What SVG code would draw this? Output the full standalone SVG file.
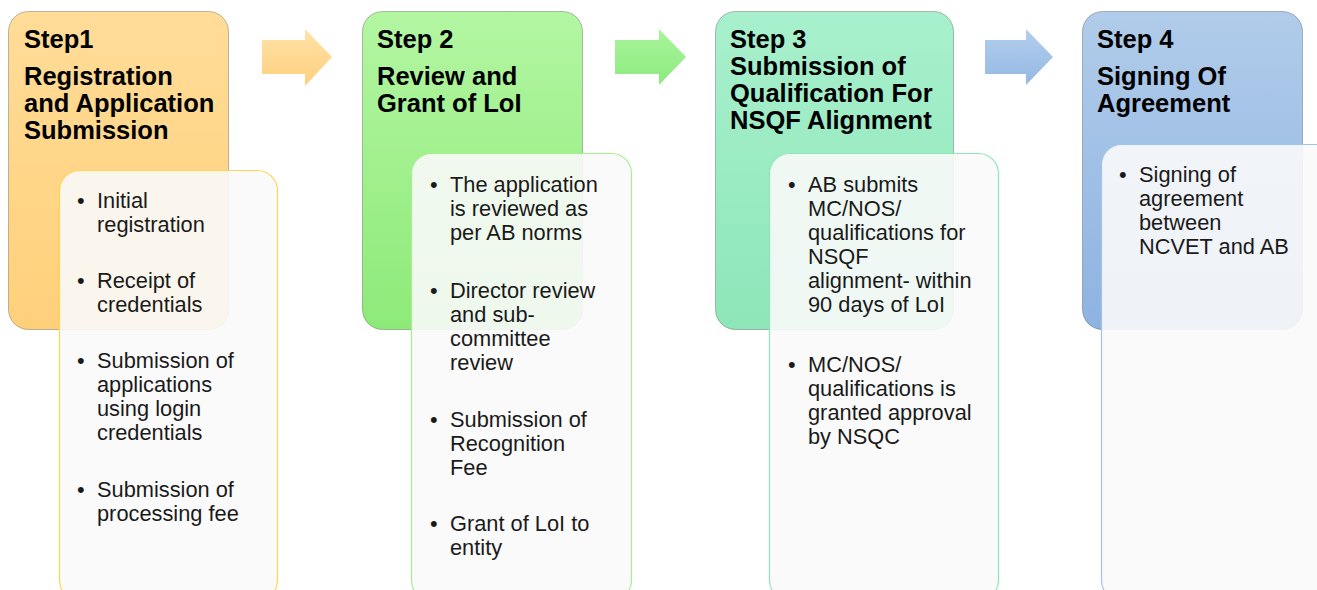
<svg xmlns="http://www.w3.org/2000/svg" width="1317" height="590" viewBox="0 0 1317 590">
<defs>
<linearGradient id="g1" x1="0" y1="0" x2="0" y2="1"><stop offset="0" stop-color="#FFDC98"/><stop offset="1" stop-color="#FFD07A"/></linearGradient>
<linearGradient id="g2" x1="0" y1="0" x2="0" y2="1"><stop offset="0" stop-color="#B3F6A2"/><stop offset="1" stop-color="#8DEA78"/></linearGradient>
<linearGradient id="g3" x1="0" y1="0" x2="0" y2="1"><stop offset="0" stop-color="#A8F0CD"/><stop offset="1" stop-color="#8DE6B8"/></linearGradient>
<linearGradient id="g4" x1="0" y1="0" x2="0" y2="1"><stop offset="0" stop-color="#B1CCEA"/><stop offset="1" stop-color="#8DB3E1"/></linearGradient>
<linearGradient id="a1" x1="0" y1="0" x2="0" y2="1"><stop offset="0" stop-color="#FFE2A8"/><stop offset="1" stop-color="#FFD07E"/></linearGradient>
<linearGradient id="a2" x1="0" y1="0" x2="0" y2="1"><stop offset="0" stop-color="#A8F59A"/><stop offset="1" stop-color="#8CEA80"/></linearGradient>
<linearGradient id="a3" x1="0" y1="0" x2="0" y2="1"><stop offset="0" stop-color="#B4CEEC"/><stop offset="1" stop-color="#94B8E4"/></linearGradient>
</defs>
<style>
.outer{stroke:#000;stroke-opacity:0.25;stroke-width:1}
.inner{fill:#FAFAFA;fill-opacity:0.9;stroke-width:1.2}
.title{font-family:"Liberation Sans",Arial,sans-serif;font-weight:bold;font-size:25.5px;fill:#000}
.body{font-family:"Liberation Sans",Arial,sans-serif;font-size:21.8px;fill:#1a1a1a}
</style>
<rect width="1317" height="590" fill="#fff"/>
<g id="connectors">
<polygon points="262,40 305,40 305,29 332,57 305,86 305,74 262,74" fill="url(#a1)"/>
<polygon points="615,40 659,40 659,29 686,57 659,85 659,74 615,74" fill="url(#a2)"/>
<polygon points="985,40 1026,40 1026,29 1053,57 1026,85 1026,74 985,74" fill="url(#a3)"/>
</g>
<g id="step1">
<rect class="outer" x="8.5" y="11.5" width="220" height="318" rx="20" fill="url(#g1)"/>
<text class="title" x="24" y="48">Step1</text>
<text class="title" x="24" y="85">Registration</text>
<text class="title" x="24" y="112">and Application</text>
<text class="title" x="24" y="139">Submission</text>
</g>
<g id="step1-details">
<rect class="inner" x="59.5" y="170.5" width="218" height="430" rx="20" stroke="#FFD452"/>
<text class="body"><tspan x="77" y="208">•</tspan><tspan x="97" y="208">Initial</tspan><tspan x="97" y="232">registration</tspan>
<tspan x="77" y="288">•</tspan><tspan x="97" y="288">Receipt of</tspan><tspan x="97" y="312">credentials</tspan>
<tspan x="77" y="368">•</tspan><tspan x="97" y="368">Submission of</tspan><tspan x="97" y="392">applications</tspan><tspan x="97" y="416">using login</tspan><tspan x="97" y="440">credentials</tspan>
<tspan x="77" y="497">•</tspan><tspan x="97" y="497">Submission of</tspan><tspan x="97" y="521">processing fee</tspan></text>
</g>
<g id="step2">
<rect class="outer" x="362.5" y="11.5" width="220" height="318" rx="20" fill="url(#g2)"/>
<text class="title" x="377" y="48">Step 2</text>
<text class="title" x="377" y="85">Review and</text>
<text class="title" x="377" y="112">Grant of LoI</text>
</g>
<g id="step2-details">
<rect class="inner" x="411.5" y="153.5" width="220" height="447" rx="20" stroke="#A6EE8E"/>
<text class="body"><tspan x="430" y="192">•</tspan><tspan x="450" y="192">The application</tspan><tspan x="450" y="216">is reviewed as</tspan><tspan x="450" y="240">per AB norms</tspan>
<tspan x="430" y="298">•</tspan><tspan x="450" y="298">Director review</tspan><tspan x="450" y="322">and sub-</tspan><tspan x="450" y="346">committee</tspan><tspan x="450" y="370">review</tspan>
<tspan x="430" y="427">•</tspan><tspan x="450" y="427">Submission of</tspan><tspan x="450" y="451">Recognition</tspan><tspan x="450" y="475">Fee</tspan>
<tspan x="430" y="531">•</tspan><tspan x="450" y="531">Grant of LoI to</tspan><tspan x="450" y="555">entity</tspan></text>
</g>
<g id="step3">
<rect class="outer" x="715.5" y="11.5" width="238" height="318" rx="20" fill="url(#g3)"/>
<text class="title" x="730" y="48">Step 3</text>
<text class="title" x="730" y="75">Submission of</text>
<text class="title" x="730" y="102">Qualification For</text>
<text class="title" x="730" y="129">NSQF Alignment</text>
</g>
<g id="step3-details">
<rect class="inner" x="769.5" y="153.5" width="229" height="447" rx="20" stroke="#8DE8B8"/>
<text class="body"><tspan x="788" y="192">•</tspan><tspan x="808" y="192">AB submits</tspan><tspan x="808" y="216">MC/NOS/</tspan><tspan x="808" y="240">qualifications for</tspan><tspan x="808" y="264">NSQF</tspan><tspan x="808" y="288">alignment- within</tspan><tspan x="808" y="312">90 days of LoI</tspan>
<tspan x="788" y="372">•</tspan><tspan x="808" y="372">MC/NOS/</tspan><tspan x="808" y="396">qualifications is</tspan><tspan x="808" y="420">granted approval</tspan><tspan x="808" y="444">by NSQC</tspan></text>
</g>
<g id="step4">
<rect class="outer" x="1082.5" y="11.5" width="220" height="318" rx="20" fill="url(#g4)"/>
<text class="title" x="1097" y="48">Step 4</text>
<text class="title" x="1097" y="85">Signing Of</text>
<text class="title" x="1097" y="112">Agreement</text>
</g>
<g id="step4-details">
<rect class="inner" x="1101.5" y="144.5" width="240" height="456" rx="20" stroke="#A4C1E6"/>
<text class="body"><tspan x="1119" y="182">•</tspan><tspan x="1139" y="182">Signing of</tspan><tspan x="1139" y="206">agreement</tspan><tspan x="1139" y="230">between</tspan><tspan x="1139" y="254">NCVET and AB</tspan></text>
</g>
</svg>
